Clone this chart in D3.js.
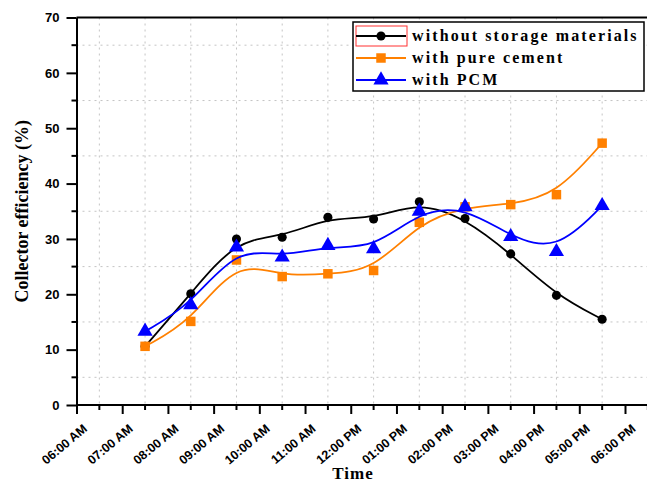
<!DOCTYPE html>
<html>
<head>
<meta charset="utf-8">
<script src="https://cdn.jsdelivr.net/npm/d3@7/dist/d3.min.js"></script>
<style>
  body { margin: 0; background: #fff; }
  svg { display: block; }
</style>
</head>
<body>
<div id="chart"></div>
<script>
// sample times (half hours) and the three series
const times = ["07:30", "08:30", "09:30", "10:30", "11:30", "12:30", "13:30", "14:30", "15:30", "16:30", "17:30"];
const withoutStorage = [10.6, 20.1, 30.0, 30.3, 33.9, 33.6, 36.7, 33.7, 27.3, 19.8, 15.5];
const pureCement = [10.6, 15.1, 26.2, 23.2, 23.7, 24.3, 33.0, 35.8, 36.2, 38.0, 47.3];
const withPCM = [13.3, 18.1, 28.5, 26.7, 28.8, 28.2, 35.0, 35.8, 30.4, 27.7, 36.0];
const seriesNames = ["without storage materials", "with pure cement", "with PCM"];
const yTicks = [0, 10, 20, 30, 40, 50, 60, 70];

const width = 647;
const height = 485;
const padL = 76.5, padT = 17.5, axisY = 405, padR = 660;

const parse = d3.timeParse("%H:%M");
const fmt = d3.timeFormat("%I:%M %p");

const x = d3.scaleTime()
    .domain([parse("06:00"), parse("18:00")])
    .range([padL, 625]);
const y = d3.scaleLinear()
    .domain([0, 70])
    .range([axisY, padT]);

const svg = d3.select("#chart")
    .append("svg")
    .attr("width", width)
    .attr("height", height);

// grid on the half hours / odd fives
const halfHours = d3.timeMinute.every(30).range(parse("06:00"), parse("18:31")).filter(d => d.getMinutes() === 30);
const minorY = d3.range(5, 70, 10);

svg.append("g").selectAll("line")
    .data(halfHours)
    .enter().append("line")
    .attr("x1", d => x(d)).attr("x2", d => x(d))
    .attr("y1", padT).attr("y2", axisY)
    .attr("stroke", "#c4c4c4")
    .attr("stroke-width", 1)
    .attr("stroke-dasharray", "2,4");

svg.append("g").selectAll("line")
    .data(minorY)
    .enter().append("line")
    .attr("x1", padL).attr("x2", padR)
    .attr("y1", d => y(d)).attr("y2", d => y(d))
    .attr("stroke", "#c4c4c4")
    .attr("stroke-width", 1)
    .attr("stroke-dasharray", "2,4");

// top border
svg.append("line")
    .attr("x1", padL).attr("x2", padR)
    .attr("y1", padT).attr("y2", padT)
    .attr("stroke", "#000").attr("stroke-width", 2);

// y axis
const yAxis = svg.append("g")
    .attr("transform", "translate(" + padL + ",0)")
    .call(d3.axisLeft(y).tickValues(yTicks).tickSize(10).tickPadding(7).tickSizeOuter(0));
yAxis.select(".domain").attr("stroke-width", 2);
yAxis.selectAll(".tick line").attr("stroke-width", 2);
yAxis.selectAll("text")
    .attr("font-family", "Liberation Sans, Arial, sans-serif")
    .attr("font-weight", "bold")
    .attr("font-size", 13)
    .attr("fill", "#000");

svg.append("g").selectAll("line")
    .data(minorY)
    .enter().append("line")
    .attr("x1", padL - 5).attr("x2", padL)
    .attr("y1", d => y(d)).attr("y2", d => y(d))
    .attr("stroke", "#000").attr("stroke-width", 2);

// x axis
const xAxis = svg.append("g")
    .attr("transform", "translate(0," + axisY + ")")
    .call(d3.axisBottom(x).ticks(d3.timeHour.every(1)).tickFormat(fmt).tickSize(9).tickSizeOuter(0));
xAxis.select(".domain").attr("d", "M" + padL + ",0H" + padR).attr("stroke-width", 2);
xAxis.selectAll(".tick line").attr("stroke-width", 2);
xAxis.selectAll("text")
    .attr("font-family", "Liberation Sans, Arial, sans-serif")
    .attr("font-weight", "bold")
    .attr("font-size", 12.5)
    .attr("fill", "#000")
    .attr("text-anchor", "end")
    .attr("dy", 0)
    .attr("y", 0)
    .attr("transform", "translate(11,25) rotate(-40)");

svg.append("g").selectAll("line")
    .data(halfHours)
    .enter().append("line")
    .attr("x1", d => x(d)).attr("x2", d => x(d))
    .attr("y1", axisY).attr("y2", axisY + 5)
    .attr("stroke", "#000").attr("stroke-width", 2);

// axis titles
svg.append("text")
    .attr("transform", "translate(28," + ((padT + axisY) / 2) + ") rotate(-90)")
    .attr("text-anchor", "middle")
    .attr("font-family", "Liberation Serif, Times New Roman, serif")
    .attr("font-weight", "bold")
    .attr("font-size", 18)
    .text("Collector efficiency (%)");

svg.append("text")
    .attr("x", 353)
    .attr("y", 479)
    .attr("text-anchor", "middle")
    .attr("font-family", "Liberation Serif, Times New Roman, serif")
    .attr("font-weight", "bold")
    .attr("font-size", 17)
    .attr("letter-spacing", 1)
    .text("Time");

// lines
const series = [
    {name: seriesNames[0], values: withoutStorage, color: "#000000", shape: "circle"},
    {name: seriesNames[1], values: pureCement, color: "#ff8000", shape: "square"},
    {name: seriesNames[2], values: withPCM, color: "#0000ff", shape: "triangle"}
];

const line = d3.line()
    .x(d => x(parse(d.t)))
    .y(d => y(d.v))
    .curve(d3.curveBasis);

const symbolOf = {
    circle: d3.symbol().type(d3.symbolCircle).size(65),
    square: d3.symbol().type(d3.symbolSquare).size(90),
    triangle: d3.symbol().type(d3.symbolTriangle).size(100)
};

series.forEach(function(s) {
    const pts = times.map((t, i) => ({t: t, v: s.values[i]}));
    svg.append("path")
        .datum(pts)
        .attr("d", line)
        .attr("fill", "none")
        .attr("stroke", s.color)
        .attr("stroke-width", 1.8);
    svg.append("g").selectAll("path")
        .data(pts)
        .enter().append("path")
        .attr("transform", d => "translate(" + x(parse(d.t)) + "," + y(d.v) + ")")
        .attr("d", symbolOf[s.shape])
        .attr("fill", s.color);
});

// legend
const lg = svg.append("g").attr("transform", "translate(353,22)");
lg.append("rect")
    .attr("width", 291).attr("height", 69)
    .attr("fill", "#fff")
    .attr("stroke", "#000").attr("stroke-width", 1.5);
lg.append("rect")
    .attr("x", 3).attr("y", 4).attr("width", 51).attr("height", 20)
    .attr("fill", "none")
    .attr("stroke", "#ff3030").attr("stroke-width", 1);

series.forEach(function(s, i) {
    const ry = 14 + i * 22;
    lg.append("line")
        .attr("x1", 3).attr("x2", 53)
        .attr("y1", ry).attr("y2", ry)
        .attr("stroke", s.color).attr("stroke-width", 1.8);
    lg.append("path")
        .attr("transform", "translate(28," + ry + ")")
        .attr("d", symbolOf[s.shape])
        .attr("fill", s.color);
    lg.append("text")
        .attr("x", 59)
        .attr("y", ry + 5)
        .attr("font-family", "Liberation Serif, Times New Roman, serif")
        .attr("font-weight", "bold")
        .attr("font-size", 16)
        .attr("letter-spacing", 2.1)
        .text(s.name);
});
</script>
</body>
</html>
